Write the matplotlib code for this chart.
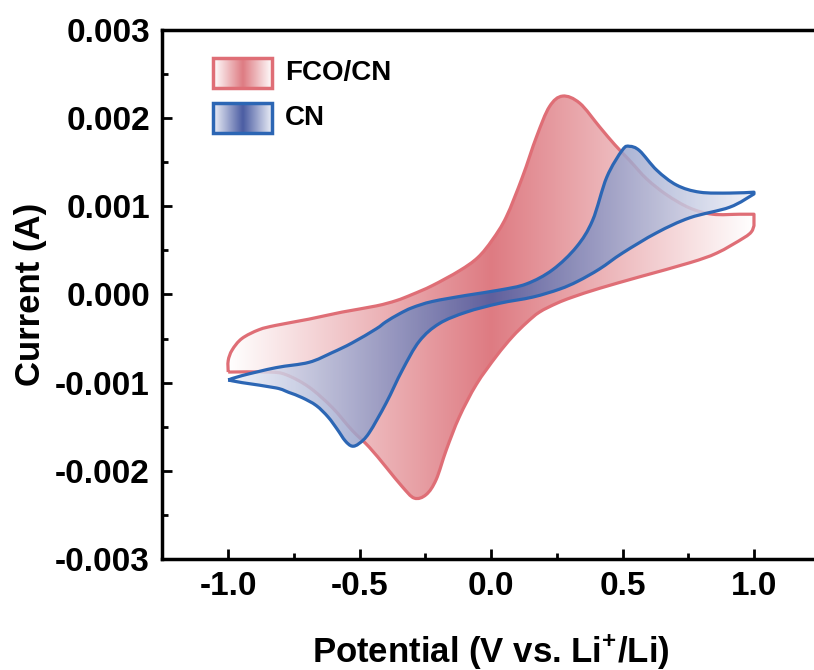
import numpy as np
import matplotlib.pyplot as plt
from matplotlib.colors import LinearSegmentedColormap
from matplotlib.patches import PathPatch, Rectangle
from matplotlib.path import Path
from matplotlib.ticker import MultipleLocator, FormatStrFormatter

plt.rcParams['font.family'] = 'Liberation Sans'
plt.rcParams['font.weight'] = 'bold'
plt.rcParams['axes.unicode_minus'] = False
plt.rcParams['mathtext.fontset'] = 'custom'
plt.rcParams['mathtext.bf'] = 'Liberation Sans:bold'
plt.rcParams['mathtext.rm'] = 'Liberation Sans:bold'
plt.rcParams['mathtext.default'] = 'bf'

# FCO/CN - anodic sweep (-1 V -> 1 V)
fco_fwd_v = [-1.0, -1.0, -0.985, -0.948, -0.883, -0.818, -0.693, -0.567, -0.437, -0.361,
             -0.300, -0.224, -0.120, -0.050, 0.005, 0.058, 0.119, 0.173, 0.222, 0.272,
             0.337, 0.413, 0.470, 0.527, 0.592, 0.668, 0.756, 0.843, 0.946, 1.0]
fco_fwd_i = [-0.00088, -0.00075, -0.00063, -0.00050, -0.00040, -0.00035, -0.00028, -0.00020, -0.00013, -0.00007,
             0.00000, 0.00010, 0.00027, 0.00042, 0.00062, 0.00088, 0.00133, 0.00179, 0.00213, 0.00225,
             0.00217, 0.00190, 0.00170, 0.00152, 0.00131, 0.00113, 0.00098, 0.00091, 0.00091, 0.00091]
# FCO/CN - cathodic sweep (1 V -> -1 V)
fco_rev_v = [1.0, 0.990, 0.960, 0.859, 0.756, 0.565, 0.413, 0.310, 0.250, 0.184, 0.135, 0.081, 0.020,
             -0.056, -0.121, -0.170, -0.209, -0.247, -0.292, -0.338, -0.399, -0.464, -0.529,
             -0.605, -0.693, -0.780, -0.845, -1.0]
fco_rev_i = [0.00078, 0.00071, 0.00064, 0.00047, 0.00036, 0.00020, 0.00007, -0.00003, -0.00010, -0.00020, -0.00032, -0.00048, -0.00070,
             -0.00102, -0.00139, -0.00176, -0.00210, -0.00227, -0.00231, -0.00218, -0.00196, -0.00173, -0.00154,
             -0.00128, -0.00105, -0.00091, -0.00088, -0.00088]

# CN - anodic sweep
cn_fwd_v = [-1.0, -0.947, -0.818, -0.693, -0.605, -0.529, -0.437, -0.400, -0.349, -0.300, -0.224, -0.094,
            0.032, 0.135, 0.234, 0.325, 0.386, 0.440, 0.500, 0.527, 0.565, 0.630,
            0.706, 0.794, 0.908, 1.0]
cn_fwd_i = [-0.00097, -0.00092, -0.00083, -0.00077, -0.00066, -0.00055, -0.00039, -0.00031, -0.00022, -0.00015, -0.00008, -0.00001,
            0.00005, 0.00012, 0.00028, 0.00054, 0.00084, 0.00133, 0.00164, 0.00168, 0.00163, 0.00141,
            0.00124, 0.00116, 0.00115, 0.00116]
# CN - cathodic sweep
cn_rev_v = [1.0, 0.908, 0.756, 0.630, 0.500, 0.413, 0.330, 0.260, 0.158, 0.032, -0.094, -0.197,
            -0.273, -0.338, -0.399, -0.464, -0.502, -0.529, -0.555, -0.585, -0.620, -0.665, -0.719,
            -0.770, -0.818, -0.947, -1.0]
cn_rev_i = [0.00114, 0.00099, 0.00087, 0.00070, 0.00047, 0.00029, 0.00015, 0.00006, -0.00003, -0.00010, -0.00020, -0.00033,
            -0.00053, -0.00086, -0.00123, -0.00157, -0.00169, -0.00172, -0.00166, -0.00153, -0.00139, -0.00126, -0.00117,
            -0.00111, -0.00106, -0.00100, -0.00097]

labels = ['FCO/CN', 'CN']
line_colors = ['#DF6E76', '#2C66B4']
peak_colors = ['#DE7B82', '#4A5CA2']
edge_colors = ['#FFFFFF', '#EEF0F8']
fill_alpha = [1.0, 0.85]

xticks = [-1.0, -0.5, 0.0, 0.5, 1.0]
yticks = [-0.003, -0.002, -0.001, 0.0, 0.001, 0.002, 0.003]


def smooth_branch(v, i):
    # Catmull-Rom through the points, written as cubic Bezier segments
    p = np.column_stack([v, i])
    p = np.vstack([p[0], p, p[-1]])
    verts, codes = [], []
    for k in range(1, len(p) - 2):
        c1 = p[k] + (p[k + 1] - p[k - 1]) / 6
        c2 = p[k + 1] - (p[k + 2] - p[k]) / 6
        verts += [c1, c2, p[k + 1]]
        codes += [Path.CURVE4] * 3
    return verts, codes


def cv_path(fwd_v, fwd_i, rev_v, rev_i):
    verts, codes = [(fwd_v[0], fwd_i[0])], [Path.MOVETO]
    vv, cc = smooth_branch(fwd_v, fwd_i)
    verts += vv
    codes += cc
    verts.append((rev_v[0], rev_i[0]))
    codes.append(Path.LINETO)
    vv, cc = smooth_branch(rev_v, rev_i)
    verts += vv
    codes += cc
    verts.append((fwd_v[0], fwd_i[0]))
    codes.append(Path.LINETO)
    return Path(verts, codes)


def gradient_fill(ax, path, vmin, vmax, edge, peak, line, alpha, z):
    cmap = LinearSegmentedColormap.from_list('grad', [edge, peak, edge])
    clip = PathPatch(path, facecolor='none', edgecolor='none')
    ax.add_patch(clip)
    img = ax.imshow(np.linspace(0, 1, 256).reshape(1, -1), cmap=cmap, aspect='auto',
                    extent=(vmin, vmax, -0.003, 0.003), origin='lower',
                    alpha=alpha, zorder=z, interpolation='bicubic')
    img.set_clip_path(clip)
    ax.add_patch(PathPatch(path, facecolor='none', edgecolor=line, lw=2.3,
                           joinstyle='round', zorder=z + 0.1))


fig = plt.figure(figsize=(8.14, 6.70), dpi=100)
ax = fig.add_axes([0.1996, 0.1657, 0.8074, 0.7896])

curves = [(fco_fwd_v, fco_fwd_i, fco_rev_v, fco_rev_i),
          (cn_fwd_v, cn_fwd_i, cn_rev_v, cn_rev_i)]
for k, c in enumerate(curves):
    gradient_fill(ax, cv_path(*c), min(c[0]), max(c[0]), edge_colors[k], peak_colors[k],
                  line_colors[k], fill_alpha[k], 2 + k)

# legend boxes with the same gradient
leg_y = [0.890, 0.805]
for k in range(2):
    cmap = LinearSegmentedColormap.from_list('leg', [edge_colors[k], peak_colors[k], edge_colors[k]])
    im = ax.imshow(np.linspace(0, 1, 64).reshape(1, -1), cmap=cmap, aspect='auto',
                   extent=(0.0768, 0.1666, leg_y[k], leg_y[k] + 0.057), zorder=5,
                   interpolation='bicubic')
    im.set_transform(ax.transAxes)
    ax.add_patch(Rectangle((0.0768, leg_y[k]), 0.0898, 0.057, transform=ax.transAxes,
                           facecolor='none', edgecolor=line_colors[k], lw=2.5, zorder=6))
    ax.text(0.186, leg_y[k] + 0.0285, labels[k], transform=ax.transAxes, fontsize=20,
            fontweight='bold', va='center', ha='left', zorder=6)

ax.set_xlim(-1.25, 1.25)
ax.set_ylim(-0.003, 0.003)
ax.set_xticks(xticks)
ax.set_yticks(yticks)
ax.xaxis.set_minor_locator(MultipleLocator(0.25))
ax.yaxis.set_minor_locator(MultipleLocator(0.0005))
ax.xaxis.set_major_formatter(FormatStrFormatter('%.1f'))
ax.yaxis.set_major_formatter(FormatStrFormatter('%.3f'))
ax.tick_params(which='major', direction='in', length=7, width=2, labelsize=24, pad=9)
ax.tick_params(which='minor', direction='in', length=4, width=2)
for s in ax.spines.values():
    s.set_linewidth(2.5)

ax.set_xlabel(r'Potential (V vs. Li$^{+}$/Li)', fontsize=25, fontweight='bold', labelpad=21)
ax.set_ylabel('Current (A)', fontsize=25, fontweight='bold', labelpad=6)

fig.savefig('out.png', dpi=100)
